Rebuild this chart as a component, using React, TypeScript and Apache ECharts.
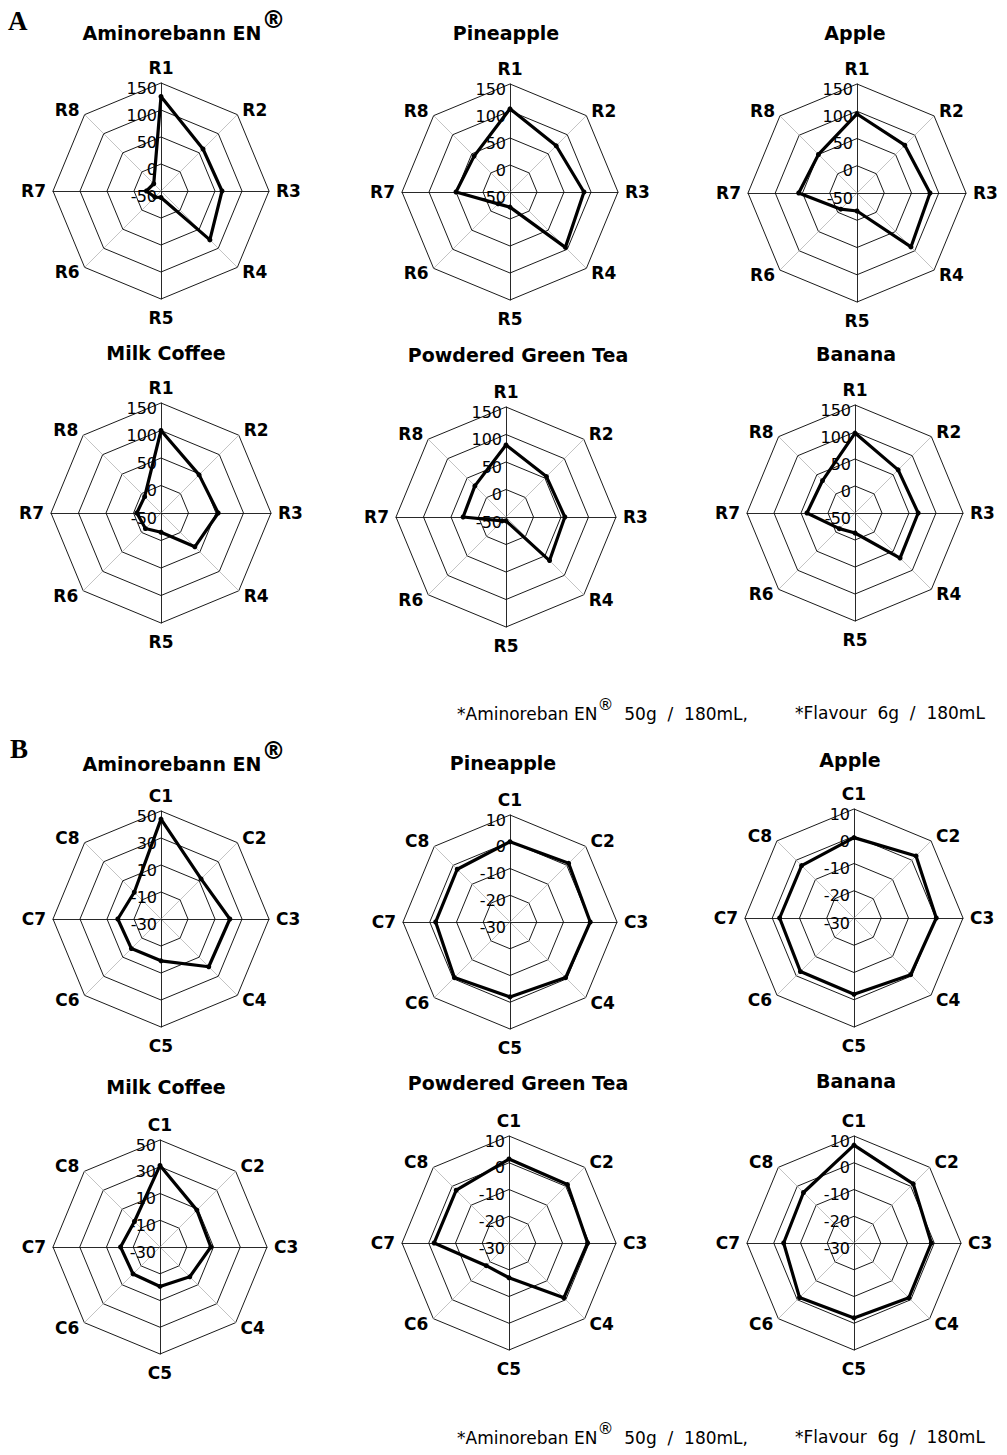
import React, { useEffect, useRef } from "react";
import * as echarts from "echarts";

// ---------- data ----------
const rLabels = ["R1", "R2", "R3", "R4", "R5", "R6", "R7", "R8"];
const cLabels = ["C1", "C2", "C3", "C4", "C5", "C6", "C7", "C8"];
const flavourTitles = ["Aminorebann EN", "Pineapple", "Apple", "Milk Coffee", "Powdered Green Tea", "Banana"];

// Panel A scale (R axes)
const aMin = -50;
const aMax = 150;
// Panel B scales (C axes)
const bAminoMin = -30;
const bAminoMax = 50;
const bFlavMin = -30;
const bFlavMax = 10;

// Panel A values R1..R8
const aAminorebann = [125, 60, 63, 78, -38, -34, -23, -31];
const aPineapple = [104, 71, 87, 95, -22, -19, 50, 44];
const aApple = [95, 74, 84, 90, -17, -8, 57, 50];
const aMilkCoffee = [100, 48, 54, 37, -15, -10, -6, -8];
const aGreenTea = [81, 54, 57, 62, -43, -40, 28, 30];
const aBanana = [98, 63, 67, 68, -13, -9, 39, 35];

// Panel B values C1..C8
const bAminorebann = [44, 12, 21, 20, 1, 1, 2, -2];
const bPineapple = [0, 1, 0, -0.6, -2, -0.6, -2.2, -2.1];
const bApple = [-0.5, 2.2, 0.2, -0.6, -2, -2.2, -2.7, -2.8];
const bMilkCoffee = [31, 9, 8, 1.5, -0.5, -1.5, -0.5, -3];
const bGreenTea = [1.4, 0.9, -0.6, -1, -17, -18, -2, -2.1];
const bBanana = [6.6, 1.3, -1.1, -1, -2, -1.2, -3.7, -3.3];

const footA = "*Aminoreban EN";
const footB = "  50g  /  180mL,";
const footC = "*Flavour  6g  /  180mL";

// ---------- layout ----------
const W = 1007;
const H = 1455;
// ECharts lays out indicators counter-clockwise; reorder so R1..R8 run clockwise
const ORDER = [0, 7, 6, 5, 4, 3, 2, 1];

type ChartDef = {
  title: string;
  reg: boolean;
  labels: string[];
  min: number;
  max: number;
  values: number[];
  cx: number;
  cy: number;
  r: number;
  tx: number;
  ty: number;
};

const charts: ChartDef[] = [
  { title: flavourTitles[0], reg: true, labels: rLabels, min: aMin, max: aMax, values: aAminorebann, cx: 161, cy: 191, r: 108, tx: 184, ty: 33 },
  { title: flavourTitles[1], reg: false, labels: rLabels, min: aMin, max: aMax, values: aPineapple, cx: 510, cy: 192, r: 108, tx: 506, ty: 33 },
  { title: flavourTitles[2], reg: false, labels: rLabels, min: aMin, max: aMax, values: aApple, cx: 857, cy: 193, r: 109, tx: 855, ty: 33 },
  { title: flavourTitles[3], reg: false, labels: rLabels, min: aMin, max: aMax, values: aMilkCoffee, cx: 161, cy: 513, r: 110, tx: 166, ty: 353 },
  { title: flavourTitles[4], reg: false, labels: rLabels, min: aMin, max: aMax, values: aGreenTea, cx: 506, cy: 517, r: 110, tx: 518, ty: 355 },
  { title: flavourTitles[5], reg: false, labels: rLabels, min: aMin, max: aMax, values: aBanana, cx: 855, cy: 513, r: 108, tx: 856, ty: 354 },
  { title: flavourTitles[0], reg: true, labels: cLabels, min: bAminoMin, max: bAminoMax, values: bAminorebann, cx: 161, cy: 919, r: 108, tx: 184, ty: 764 },
  { title: flavourTitles[1], reg: false, labels: cLabels, min: bFlavMin, max: bFlavMax, values: bPineapple, cx: 510, cy: 922, r: 107, tx: 503, ty: 763 },
  { title: flavourTitles[2], reg: false, labels: cLabels, min: bFlavMin, max: bFlavMax, values: bApple, cx: 854, cy: 918, r: 109, tx: 850, ty: 760 },
  { title: flavourTitles[3], reg: false, labels: cLabels, min: bAminoMin, max: bAminoMax, values: bMilkCoffee, cx: 160, cy: 1247, r: 107, tx: 166, ty: 1087 },
  { title: flavourTitles[4], reg: false, labels: cLabels, min: bFlavMin, max: bFlavMax, values: bGreenTea, cx: 509, cy: 1243, r: 107, tx: 518, ty: 1083 },
  { title: flavourTitles[5], reg: false, labels: cLabels, min: bFlavMin, max: bFlavMax, values: bBanana, cx: 854, cy: 1243, r: 107, tx: 856, ty: 1081 },
];

const SANS = "DejaVu Sans";

function buildOption() {
  const radar = charts.map((c) => ({
    center: [c.cx, c.cy],
    radius: c.r,
    startAngle: 90,
    splitNumber: 4,
    shape: "polygon",
    nameGap: 7,
    indicator: ORDER.map((i, k) => ({
      name: c.labels[i],
      min: c.min,
      max: c.max,
      axisLabel: { show: k === 0 },
      axisLine: {
        lineStyle: { color: i % 2 === 0 ? "#111" : "#9a9a9a", width: i % 2 === 0 ? 0.9 : 0.6 },
      },
    })),
    axisName: { color: "#000", fontSize: 17, fontWeight: "bold", fontFamily: SANS, padding: [3, 0, 0, 0] },
    axisLine: { show: true, lineStyle: { color: "#111", width: 0.8 } },
    axisTick: { show: false },
    axisLabel: {
      show: false,
      color: "#000",
      fontSize: 16,
      fontFamily: SANS,
      margin: 0,
      align: "right",
      verticalAlign: "top",
      lineHeight: 10,
      padding: [0, 4, 0, 0],
    },
    splitLine: { lineStyle: { color: "#000", width: 0.9 } },
    splitArea: { show: false },
  }));

  const series = charts.map((c, idx) => ({
    type: "radar",
    radarIndex: idx,
    symbol: "circle",
    symbolSize: 5,
    lineStyle: { color: "#000", width: 3.2 },
    itemStyle: { color: "#000" },
    data: [{ name: c.title, value: ORDER.map((i) => c.values[i]) }],
  }));

  const titleRich = {
    t: { fontSize: 19, fontWeight: "bold", fontFamily: SANS, color: "#000", lineHeight: 34, verticalAlign: "bottom" },
    r: { fontSize: 24, fontWeight: "bold", fontFamily: SANS, color: "#000", lineHeight: 34, verticalAlign: "top" },
  };

  const graphic: any[] = charts.map((c) => ({
    type: "text",
    x: c.tx,
    y: c.reg ? c.ty - 8 : c.ty,
    style: {
      text: c.reg ? `{t|${c.title}}{r|®}` : `{t|${c.title}}`,
      rich: c.reg ? titleRich : { t: { ...titleRich.t, lineHeight: 22, verticalAlign: "middle" } },
      align: "center",
      verticalAlign: "middle",
    },
  }));

  const footRich = {
    f: { fontSize: 17, fontFamily: SANS, color: "#000", lineHeight: 26, verticalAlign: "bottom" },
    s: { fontSize: 16, fontFamily: SANS, color: "#000", lineHeight: 26, verticalAlign: "top" },
  };
  [713, 1437].forEach((fy) => {
    graphic.push({
      type: "text",
      x: 457,
      y: fy - 4,
      style: { text: `{f|${footA}}{s|®}{f|${footB}}`, rich: footRich, align: "left", verticalAlign: "middle" },
    });
    graphic.push({
      type: "text",
      x: 795,
      y: fy,
      style: { text: footC, fontSize: 17, fontFamily: SANS, fill: "#000", align: "left", verticalAlign: "middle" },
    });
  });
  graphic.push({
    type: "text",
    x: 8,
    y: 21,
    style: { text: "A", fontSize: 27, fontWeight: "bold", fontFamily: "Liberation Serif", fill: "#000", align: "left", verticalAlign: "middle" },
  });
  graphic.push({
    type: "text",
    x: 10,
    y: 749,
    style: { text: "B", fontSize: 27, fontWeight: "bold", fontFamily: "Liberation Serif", fill: "#000", align: "left", verticalAlign: "middle" },
  });

  return {
    animation: false,
    backgroundColor: "#fff",
    radar,
    series,
    graphic,
  };
}

export default function App() {
  const ref = useRef<HTMLDivElement>(null);
  useEffect(() => {
    if (!ref.current) return;
    const chart = echarts.init(ref.current, undefined, { renderer: "svg" });
    chart.setOption(buildOption() as any);
    return () => chart.dispose();
  }, []);
  return (
    <div
      ref={ref}
      style={{ position: "absolute", left: 0, top: 0, width: W, height: H, background: "#fff" }}
    />
  );
}
